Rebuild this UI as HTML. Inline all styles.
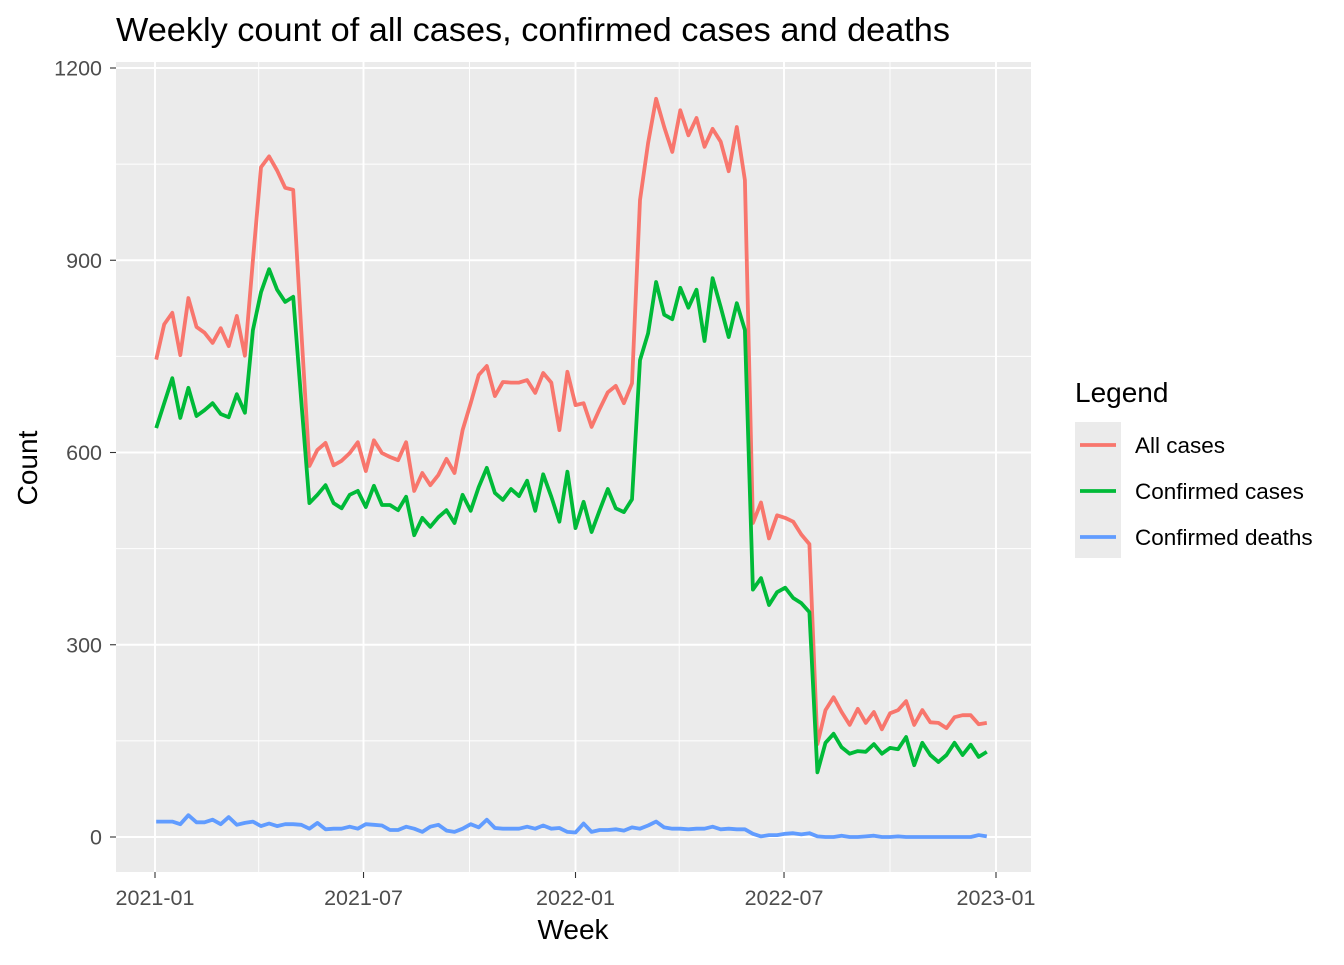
<!DOCTYPE html>
<html><head><meta charset="utf-8"><style>
body{margin:0;background:#fff;font-family:"Liberation Sans",Arial,sans-serif;}
svg text{font-family:"Liberation Sans",Arial,sans-serif;}
</style></head><body>
<svg id="chart" width="1344" height="960" xmlns="http://www.w3.org/2000/svg">
<rect width="1344" height="960" fill="#fff"/>
<text x="116" y="41" font-size="33" textLength="834" lengthAdjust="spacingAndGlyphs" fill="#000">Weekly count of all cases, confirmed cases and deaths</text>
<rect x="116" y="62" width="915" height="810" fill="#ebebeb"/>
<g id="grid"></g>
<g id="series"></g>
<g id="axes"></g>
<text x="573" y="939" font-size="28" text-anchor="middle" fill="#000">Week</text>
<text transform="translate(37,468) rotate(-90)" font-size="28" text-anchor="middle" fill="#000">Count</text>
<g>
<text x="1075" y="402" font-size="28" fill="#000">Legend</text>
<rect x="1075" y="422" width="46" height="136" fill="#ebebeb"/>
<line x1="1080" x2="1116" y1="445" y2="445" stroke="#F8766D" stroke-width="3.8"/>
<line x1="1080" x2="1116" y1="491" y2="491" stroke="#00BA38" stroke-width="3.8"/>
<line x1="1080" x2="1116" y1="537" y2="537" stroke="#619CFF" stroke-width="3.8"/>
<text x="1135" y="453" font-size="22.5" fill="#000">All cases</text>
<text x="1135" y="499" font-size="22.5" fill="#000">Confirmed cases</text>
<text x="1135" y="545" font-size="22.5" fill="#000">Confirmed deaths</text>
</g>
</svg>
<script>
const startDate = "2021-01-02";
const allCases = [745,800,818,752,841,796,787,771,794,766,813,751,900,1045,1062,1040,1013,1010,790,579,604,615,580,587,599,616,571,619,599,593,588,616,540,568,549,565,590,568,635,677,721,735,688,710,709,709,713,693,724,709,635,726,674,677,640,668,694,704,677,708,994,1083,1152,1108,1069,1134,1095,1122,1077,1105,1085,1039,1108,1025,490,522,466,502,498,492,472,457,145,198,218,195,175,200,178,195,168,193,198,212,175,198,179,178,170,187,190,190,176,178];
const confirmedCases = [638,677,716,654,701,657,666,677,660,655,691,662,791,850,886,854,835,843,680,521,534,549,521,513,534,540,515,548,518,518,510,531,471,498,484,499,510,490,534,509,546,576,537,526,543,532,556,509,566,531,492,570,482,523,476,510,543,513,507,527,744,786,866,815,808,857,826,854,774,872,827,780,833,791,386,404,362,382,389,373,365,351,101,147,161,140,130,134,133,145,130,139,137,156,112,147,128,117,128,147,128,144,125,133];
const confirmedDeaths = [24,24,24,20,34,23,23,27,20,31,19,22,24,17,21,17,20,20,19,13,22,12,13,13,16,13,20,19,18,11,11,16,13,8,16,19,10,8,13,20,15,27,14,13,13,13,16,13,18,13,14,8,7,21,8,11,11,12,10,15,13,18,24,15,13,13,12,13,13,16,12,13,12,12,5,1,3,3,5,6,4,6,1,0,0,2,0,0,1,2,0,0,1,0,0,0,0,0,0,0,0,0,3,1];
const yTicks = [0,300,600,900,1200];
const yMinor = [150,450,750,1050];
const xTicks = ["2021-01-01","2021-07-01","2022-01-01","2022-07-01","2023-01-01"];
const xMinor = ["2021-04-01","2021-10-01","2022-04-01","2022-10-01"];

const NS="http://www.w3.org/2000/svg";
const d0=Date.parse("2021-01-01"), d1=Date.parse("2023-01-01");
function xs(d){return 155+(Date.parse(d)-d0)/(d1-d0)*841;}
function xsMs(ms){return 155+(ms-d0)/(d1-d0)*841;}
function ys(v){return 837-v*(769/1200);}
function mk(tag,attrs,parent){const e=document.createElementNS(NS,tag);for(const k in attrs)e.setAttribute(k,attrs[k]);parent.appendChild(e);return e;}
const grid=document.getElementById('grid'), axes=document.getElementById('axes'), series=document.getElementById('series');
yMinor.forEach(v=>{const l=mk('line',{x1:116,x2:1031,y1:ys(v),y2:ys(v),stroke:'#fff','stroke-width':0.9},grid);

});
xMinor.forEach(d=>{const l=mk('line',{x1:xs(d),x2:xs(d),y1:62,y2:872,stroke:'#fff','stroke-width':0.9},grid);

});
yTicks.forEach(v=>{const y=ys(v);
const l=mk('line',{x1:116,x2:1031,y1:y,y2:y,stroke:'#fff','stroke-width':1.9},grid);


const t=mk('line',{x1:110,x2:116,y1:y,y2:y,stroke:'#333','stroke-width':1.1},axes);


const tx=mk('text',{x:102,y:y+7.5,'font-size':21.5,'text-anchor':'end',fill:'#4d4d4d'},axes);tx.textContent=v;

});
xTicks.forEach(d=>{const x=xs(d);
const l=mk('line',{x1:x,x2:x,y1:62,y2:872,stroke:'#fff','stroke-width':1.9},grid);


const t=mk('line',{x1:x,x2:x,y1:872,y2:878,stroke:'#333','stroke-width':1.1},axes);


const tx=mk('text',{x:x,y:905,'font-size':21.5,'text-anchor':'middle',fill:'#4d4d4d'},axes);tx.textContent=d.slice(0,7);

});
const s0=Date.parse(startDate), wk=7*86400000;
function draw(vals,color,name){
const pts=vals.map((v,i)=>xsMs(s0+i*wk).toFixed(1)+','+ys(v).toFixed(1)).join(' ');
const p=mk('polyline',{points:pts,fill:'none',stroke:color,'stroke-width':3.8,'stroke-linejoin':'round'},series);

}
draw(allCases,'#F8766D','all-cases-line');
draw(confirmedCases,'#00BA38','confirmed-cases-line');
draw(confirmedDeaths,'#619CFF','confirmed-deaths-line');
</script>
</body></html>
